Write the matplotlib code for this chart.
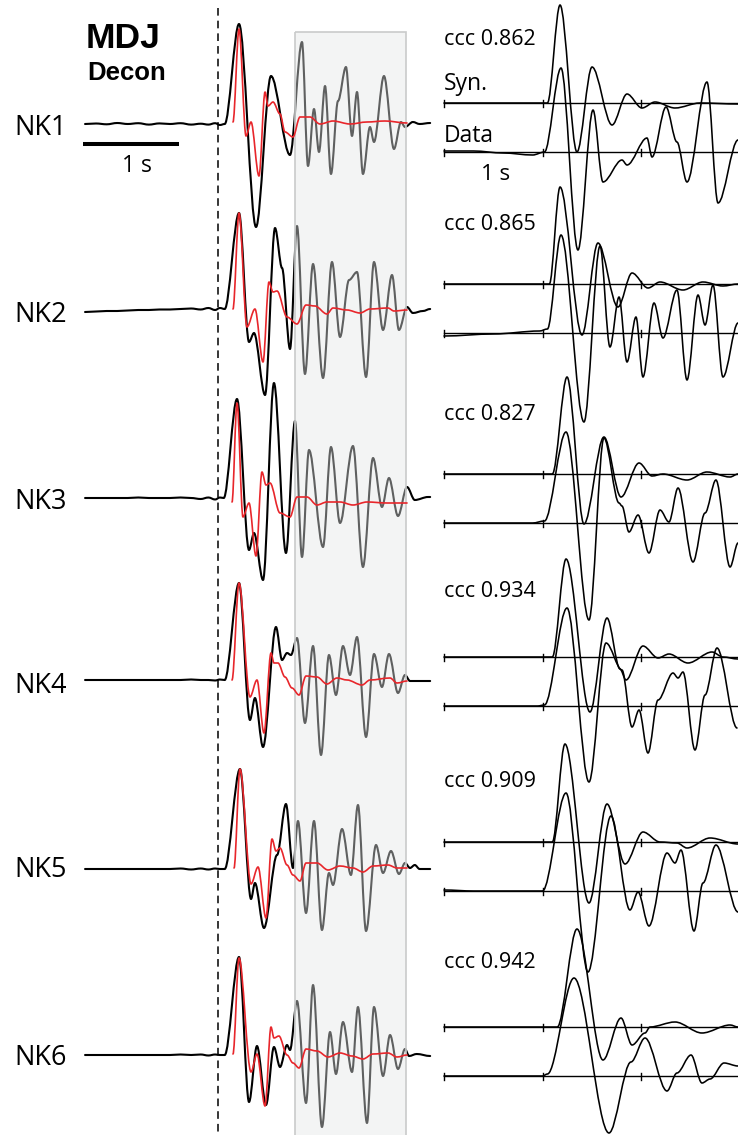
import matplotlib
matplotlib.use("Agg")
import matplotlib.pyplot as plt
from matplotlib.path import Path
from matplotlib.patches import PathPatch, Rectangle

# ---------------------------------------------------------------- data
stations = ["NK1", "NK2", "NK3", "NK4", "NK5", "NK6"]
ccc_values = ["0.862", "0.865", "0.827", "0.934", "0.909", "0.942"]

# Left panel: deconvolved waveforms (black) and predictions (red);
# (time in s after the dashed line, amplitude)
noise_t = [-1.385, -1.27, -1.16, -1.05, -0.94, -0.83, -0.72, -0.61, -0.5,
           -0.39, -0.28, -0.18, -0.1, -0.03, 0.02]
nk1_noise = [0, 0.5, -0.3, 1, 0, 0.8, -0.6, 0.6, 0, 0.8, -0.6, 0.3, -0.6, 0.8, -1]
nk2_noise = [-3, -2.5, -2, -2, -1.5, -1, -1, -0.5, -0.5, 0, 0.5, -0.5, 1, -1, 1]
nk3_noise = [0, 0, 0, 0, 0, 0.5, 0, 0, 0, 0.5, 0, -1, 0.5, -1.5, 0.5]
nk4_noise = [0, 0, 0, 0, 0, 0, 0, 0, 0, 0, 0.5, 0, 0, -0.5, 0.5]
nk5_noise = [0, 0, 0, 0, 0, 0, 0, 0, 0, 0.5, -0.5, 0.5, -0.5, 0.5, 0]
nk6_noise = [0, 0, 0, 0, 0, 0, 0, 0, 0, 0.5, 0, 0.5, -0.5, 0.5, 0]

nk1_decon = [(0.07, 0), (0.219, 100), (0.396, -103), (0.552, 48), (0.75, -31),
             (0.875, 82), (0.9375, -42), (1.0, 15), (1.052, -28), (1.115, 38),
             (1.177, -50), (1.25, 23), (1.333, 57), (1.396, -12), (1.448, 32),
             (1.51, -50), (1.583, -3), (1.625, -18), (1.729, 48), (1.833, -25),
             (1.906, 2), (1.948, -3), (2.03, 2), (2.1, 0), (2.21, 1)]
nk2_decon = [(0.07, 0), (0.219, 96), (0.323, -33), (0.375, -24), (0.49, -86),
             (0.594, 81), (0.667, 41), (0.75, -40), (0.823, 83), (0.906, -65),
             (0.99, 45), (1.094, -69), (1.1875, 47), (1.271, -28), (1.365, 29),
             (1.448, 37), (1.542, -68), (1.625, 47), (1.719, -21), (1.8125, 34),
             (1.885, -21), (1.969, 2), (2.03, -4), (2.135, -2), (2.21, 0)]
nk3_decon = [(0.06, 0), (0.198, 99), (0.323, -52), (0.375, -35), (0.469, -82),
             (0.583, 115), (0.708, -55), (0.802, 77), (0.875, -59), (0.948, 48),
             (1.094, -49), (1.177, 51), (1.271, -25), (1.406, 52), (1.51, -69),
             (1.615, 40), (1.708, -9), (1.781, 20), (1.875, -18), (1.969, 11),
             (2.05, -2), (2.1875, 1), (2.21, 1)]
nk4_decon = [(0.07, 0), (0.219, 97), (0.333, -40), (0.385, -18), (0.469, -67),
             (0.604, 53), (0.667, 20), (0.719, 27), (0.76, 25), (0.823, 42),
             (0.906, -43), (0.99, 34), (1.073, -75), (1.156, 25), (1.229, -15),
             (1.302, 34), (1.375, 5), (1.448, 43), (1.542, -57), (1.625, 26),
             (1.708, -7), (1.781, 26), (1.875, -13), (1.948, 5), (2.0, -1),
             (2.21, -1)]
nk5_decon = [(0.07, 0), (0.229, 100), (0.344, -30), (0.385, -14), (0.479, -59),
             (0.615, 14), (0.708, 65), (0.781, 1), (0.833, 48), (0.917, -44),
             (1.0, 48), (1.083, -61), (1.156, -4), (1.198, -16), (1.292, 40),
             (1.385, -6), (1.458, 64), (1.542, -62), (1.646, 24), (1.719, -4),
             (1.802, 18), (1.885, -5), (1.948, 6), (2.0, 1), (2.05, 4),
             (2.1, 0), (2.21, 0)]
nk6_decon = [(0.07, 0), (0.219, 98), (0.323, -47), (0.406, 9), (0.5, -50),
             (0.583, 8), (0.646, -12), (0.719, 10), (0.75, 5), (0.823, 54),
             (0.917, -48), (0.99, 70), (1.083, -72), (1.167, 23), (1.229, -19),
             (1.302, 33), (1.396, -17), (1.458, 48), (1.552, -68), (1.625, 48),
             (1.719, -21), (1.792, 20), (1.875, -14), (1.948, 6), (1.99, -1),
             (2.07, 1), (2.21, -1)]

nk1_pred = [(0.156, 2), (0.219, 95), (0.292, -12), (0.344, 2), (0.427, -52),
            (0.49, 32), (0.521, 18), (0.573, 22), (0.646, 10), (0.698, -8),
            (0.781, -13), (0.854, 7), (0.958, 7), (1.0625, 0), (1.198, 3),
            (1.375, 0), (1.552, 2), (1.74, 3), (1.969, 1)]
nk2_pred = [(0.156, 0), (0.219, 96), (0.302, -18), (0.385, 0), (0.469, -53),
            (0.531, 27), (0.573, 17), (0.615, 18), (0.719, -8), (0.823, -15),
            (0.917, 4), (1.01, 3), (1.135, -5), (1.198, 1), (1.344, -1),
            (1.479, -4), (1.583, 0), (1.771, 1), (1.833, -2), (1.969, -1)]
nk3_pred = [(0.146, -4), (0.198, 95), (0.26, -19), (0.323, -5), (0.396, -58),
            (0.458, 26), (0.5, 13), (0.542, 15), (0.646, -15), (0.75, -19),
            (0.823, 1), (0.927, 1), (1.031, -7), (1.135, -4), (1.271, -4),
            (1.406, -7), (1.552, -4), (1.76, -5), (1.969, -5)]
nk4_pred = [(0.146, 0), (0.219, 97), (0.333, -17), (0.406, 0), (0.479, -53),
            (0.552, 27), (0.583, 17), (0.625, 17), (0.698, 3), (0.771, -8),
            (0.844, -15), (0.917, 4), (1.031, 3), (1.135, -4), (1.24, 2),
            (1.344, 0), (1.5, -5), (1.583, 0), (1.792, 2), (1.865, -3),
            (1.969, -1)]
nk5_pred = [(0.167, 1), (0.229, 100), (0.344, -15), (0.417, 2), (0.5, -49),
            (0.5625, 30), (0.604, 18), (0.646, 21), (0.719, 4), (0.781, -6),
            (0.854, -12), (0.917, 6), (1.031, 6), (1.146, -1), (1.271, 3),
            (1.406, 1), (1.51, -3), (1.615, 3), (1.771, 4), (1.865, 1),
            (1.969, 1)]
nk6_pred = [(0.156, 1), (0.219, 97), (0.344, -17), (0.406, 1), (0.49, -51),
            (0.552, 28), (0.583, 17), (0.635, 19), (0.719, 0), (0.781, -8),
            (0.844, -13), (0.917, 6), (1.031, 4), (1.146, -2), (1.271, 2),
            (1.396, -1), (1.51, -4), (1.615, 1), (1.771, 2), (1.865, -2),
            (1.969, 0)]

# Right panel: synthetic (upper) and data (lower) waveforms, time in s
nk1_syn = [(0, 0), (1.05, 0), (1.178, 98), (1.35, -49), (1.503, 36),
           (1.706, -22), (1.858, 9), (2.01, -5), (2.142, 1), (2.345, -5),
           (2.599, 0), (2.985, -1)]
nk1_data = [(0, 1), (0.3, 1), (0.6, -1), (0.9, -3), (1.02, 0), (1.188, 84),
            (1.36, -98), (1.513, 42), (1.614, -30), (1.807, -8), (1.858, -13),
            (2.061, 14), (2.112, -5), (2.254, 45), (2.365, 10), (2.467, -30),
            (2.67, 70), (2.782, -51), (2.985, 12)]
nk2_syn = [(0, 0), (1.07, 0), (1.178, 97), (1.401, -51), (1.563, 41),
           (1.766, -23), (1.909, 11), (2.071, -4), (2.193, 2), (2.426, -6),
           (2.629, 2), (2.832, -2), (2.985, 0)]
nk2_data = [(0, -3), (0.5, -1), (0.97, 2), (1.05, 4), (1.188, 98), (1.421, -89),
            (1.584, 87), (1.685, -14), (1.777, 36), (1.858, -29), (1.949, 16),
            (2.02, -44), (2.132, 30), (2.223, -5), (2.365, 43), (2.467, -47),
            (2.579, 38), (2.65, 8), (2.731, 48), (2.832, -44), (2.985, 10)]
nk3_syn = [(0, 0), (1.1, 0), (1.249, 97), (1.421, -50), (1.624, 37),
           (1.797, -23), (1.98, 11), (2.112, -2), (2.223, 0), (2.467, -6),
           (2.67, 2), (2.904, -3), (2.985, 0)]
nk3_data = [(0, 0), (0.9, 0), (1.02, 2), (1.239, 91), (1.472, -97), (1.624, 85),
            (1.777, 20), (1.807, 17), (1.878, -9), (1.97, 8), (2.081, -30),
            (2.193, 13), (2.284, 1), (2.376, 35), (2.528, -39), (2.65, 10),
            (2.761, 43), (2.904, -44), (2.985, -20)]
nk4_syn = [(0, 0), (1.1, 0), (1.239, 98), (1.482, -55), (1.655, 39),
           (1.787, -12), (1.848, -23), (2.02, 11), (2.173, -1), (2.284, 3),
           (2.477, -6), (2.721, 5), (2.832, 0), (2.985, -2)]
nk4_data = [(0, 0), (0.95, 0), (1.02, 1), (1.249, 98), (1.472, -76), (1.645, 63),
            (1.807, 36), (1.909, -21), (1.98, -4), (2.071, -47), (2.173, 6),
            (2.325, 33), (2.376, 28), (2.426, 34), (2.548, -44), (2.65, 11),
            (2.772, 58), (2.975, -22)]
nk5_syn = [(0, 0), (1.1, 0), (1.228, 98), (1.472, -61), (1.655, 38),
           (1.838, -22), (2.02, 10), (2.193, 0), (2.365, -1), (2.467, -6),
           (2.701, 4), (2.985, -2)]
nk5_data = [(0, 1), (0.3, 0), (1.0, 0), (1.239, 98), (1.462, -81), (1.695, 75),
            (1.888, -19), (1.97, -1), (2.081, -35), (2.264, 38), (2.345, 28),
            (2.406, 41), (2.538, -40), (2.629, 8), (2.761, 46), (2.985, -21)]
nk6_syn = [(0, 0), (1.15, 0), (1.35, 98), (1.614, -33), (1.797, 9),
           (1.909, -18), (2.041, -6), (2.091, 0), (2.345, 5), (2.619, -6),
           (2.904, 2), (2.985, 0)]
nk6_data = [(0, 0), (1.0, 0), (1.05, 2), (1.32, 98), (1.675, -57), (1.898, 14),
            (2.041, 38), (2.264, -15), (2.365, 3), (2.508, 21), (2.619, -7),
            (2.701, -3), (2.843, 13), (2.985, 10)]

noises = [nk1_noise, nk2_noise, nk3_noise, nk4_noise, nk5_noise, nk6_noise]
decons = [nk1_decon, nk2_decon, nk3_decon, nk4_decon, nk5_decon, nk6_decon]
preds = [nk1_pred, nk2_pred, nk3_pred, nk4_pred, nk5_pred, nk6_pred]
syns = [nk1_syn, nk2_syn, nk3_syn, nk4_syn, nk5_syn, nk6_syn]
datas = [nk1_data, nk2_data, nk3_data, nk4_data, nk5_data, nk6_data]

window = (0.802, 1.958)      # shaded time window (s)
right_ticks = [0, 1, 2]

# ---------------------------------------------------------------- layout
W, H, DPI = 738, 1135, 100
left_base = [124, 309, 498, 680, 869, 1055]
syn_base = [103, 284, 474, 657, 842, 1027]
data_gap = 49
PX_L, T0_L = 96.0, 218.0     # left panel: px per s, px of t=0
PX_R, T0_R = 98.5, 444.0     # right panel
SPLIT = 440.0

fig = plt.figure(figsize=(W / DPI, H / DPI), dpi=DPI)
axL = fig.add_axes([0, 0, SPLIT / W, 1])
axR = fig.add_axes([SPLIT / W, 0, (W - SPLIT) / W, 1])
axL.set_xlim(-T0_L / PX_L, (SPLIT - T0_L) / PX_L)
axR.set_xlim((SPLIT - T0_R) / PX_R, (W - T0_R) / PX_R)
for ax in (axL, axR):
    ax.set_ylim(H, 0)
    ax.axis("off")


def wave_path(points, base, k=1 / 3):
    verts = [(points[0][0], base - points[0][1])]
    codes = [Path.MOVETO]
    for (t0, a0), (t1, a1) in zip(points[:-1], points[1:]):
        dt = t1 - t0
        verts += [(t0 + k * dt, base - a0), (t1 - k * dt, base - a1), (t1, base - a1)]
        codes += [Path.CURVE4] * 3
    return Path(verts, codes)


def draw_wave(ax, points, base, color, lw, z):
    ax.add_patch(PathPatch(wave_path(points, base), fill=False, edgecolor=color,
                           lw=lw, zorder=z, capstyle="round", joinstyle="round"))


RED = "#e8262b"
for i in range(6):
    b = left_base[i]
    full = list(zip(noise_t, noises[i])) + decons[i]
    draw_wave(axL, full, b, "black", 1.5, 2)
    draw_wave(axL, preds[i], b, RED, 1.2, 5)

# shaded window (semi-transparent over black traces)
axL.add_patch(Rectangle((window[0], 32), window[1] - window[0], H, facecolor="#e3e6e6",
                        alpha=0.42, edgecolor="none", zorder=3))
axL.add_patch(Rectangle((window[0], 32), window[1] - window[0], H, facecolor="none",
                        edgecolor="#c9cbcb", lw=1.2, zorder=3))

# dashed reference line
axL.plot([0, 0], [8, H], color="black", lw=1.1, ls=(0, (5, 3.3)), zorder=4)

# scale bar 1 s
axL.plot([(83 - T0_L) / PX_L, (83 - T0_L) / PX_L + 1.0], [144, 144], color="black",
         lw=2.9, solid_capstyle="butt")

# right panel
for i in range(6):
    sb = syn_base[i]
    db = sb + data_gap
    for b in (sb, db):
        axR.plot([0, 3.2], [b, b], color="black", lw=1.0, zorder=2)
        for tk in right_ticks:
            axR.plot([tk, tk], [b - 3.5, b + 3.5], color="black", lw=1.0, zorder=2)
    draw_wave(axR, syns[i], sb, "black", 1.15, 3)
    draw_wave(axR, datas[i], db, "black", 1.15, 3)


# ---------------------------------------------------------------- text
def ftext(x, y, s, **kw):
    fig.text(x / W, 1 - y / H, s, va="baseline", ha="left", **kw)


SANS = ["Open Sans", "DejaVu Sans"]
ftext(86, 48, "MDJ", fontsize=25.5, fontweight="bold", family=["Liberation Sans"])
ftext(87, 80, "Decon", fontsize=18.5, fontweight="bold", family=["Liberation Sans"])
label_center = [125, 312, 499, 683, 867, 1055]
for i, name in enumerate(stations):
    ftext(14, label_center[i] + 10, name, fontsize=19.5, family=SANS)
ftext(122, 172, "1 s", fontsize=16.5, family=SANS)

ccc_base = [45, 230, 420, 597, 787, 968]
for i, v in enumerate(ccc_values):
    ftext(444, ccc_base[i], "ccc " + v, fontsize=15.5, family=SANS)
ftext(444, 90, "Syn.", fontsize=16.5, family=SANS)
ftext(444, 142, "Data", fontsize=16.5, family=SANS)
ftext(481, 180, "1 s", fontsize=16, family=SANS)

fig.savefig("out.png", dpi=DPI)
